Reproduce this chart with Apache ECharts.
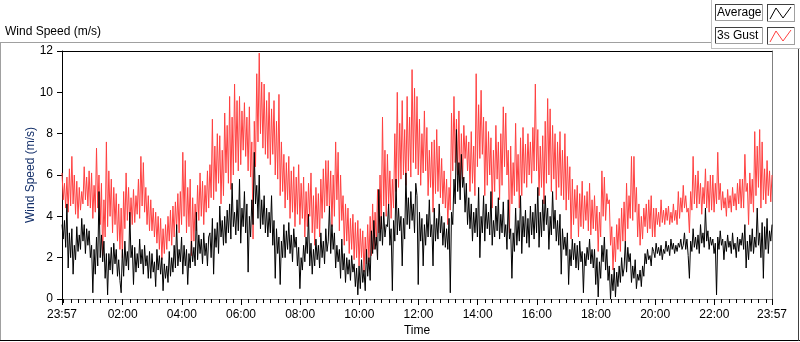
<!DOCTYPE html>
<html>
<head>
<meta charset="utf-8">
<script src="https://cdn.jsdelivr.net/npm/echarts@6/dist/echarts.min.js"></script>
<style>
  html, body { margin: 0; padding: 0; background: #fff; }
  #chart { width: 800px; height: 342px; }
</style>
</head>
<body>
<div id="chart"></div>
<script>
// samples every 2.5 minutes, starting 23:57
const startClock = '23:57';
const stepMin = 2.5;

// 3s gust (m/s), 24 samples per hour
const gustSpeed = [
  6.1, 4.8, 5.6, 4.4, 5.9, 4.2, 6.3, 4.5, 6.9, 4.6, 6.0, 4.1, 5.7, 3.9, 5.4, 4.3, 5.2, 4.6, 6.4, 4.8, 5.9, 4.5, 6.2, 4.4,
  6.1, 3.9, 5.5, 4.2, 7.3, 4.4, 6.0, 3.6, 5.6, 2.1, 4.8, 3.0, 7.6, 3.5, 6.2, 4.0, 5.8, 3.2, 5.4, 3.6, 5.1, 2.8, 4.6, 2.4,
  4.4, 2.0, 5.2, 3.4, 6.1, 3.8, 5.4, 3.5, 4.9, 3.6, 5.3, 3.7, 5.0, 4.1, 5.8, 3.9, 6.9, 4.5, 6.6, 4.2, 5.4, 3.6, 5.0, 3.3,
  4.8, 3.3, 4.4, 3.0, 4.2, 2.7, 4.0, 2.4, 3.9, 1.9, 3.4, 2.2, 3.6, 2.4, 4.0, 2.8, 4.3, 2.6, 4.5, 3.0, 4.7, 3.4, 5.1, 3.2,
  5.2, 3.6, 7.1, 4.0, 6.7, 3.2, 5.4, 3.5, 5.8, 2.1, 4.9, 2.8, 4.6, 3.3, 5.5, 3.8, 6.1, 4.0, 5.7, 3.6, 5.5, 4.2, 6.2, 4.4,
  6.5, 4.9, 8.7, 4.8, 7.4, 5.2, 8.0, 5.6, 7.9, 4.6, 7.2, 5.0, 9.0, 6.1, 8.4, 5.6, 9.8, 5.3, 8.8, 6.0, 10.4, 6.6, 9.6, 6.2,
  9.8, 6.5, 9.1, 7.2, 9.5, 6.9, 8.8, 6.2, 9.3, 5.9, 7.6, 2.9, 8.6, 6.4, 10.9, 7.6, 11.9, 8.0, 10.5, 7.3, 10.4, 7.0, 9.6, 6.8,
  10.0, 6.5, 9.2, 7.0, 9.6, 6.0, 8.6, 5.8, 9.9, 5.0, 7.6, 5.2, 7.0, 4.4, 6.6, 4.8, 6.9, 3.9, 6.2, 4.2, 6.4, 3.5, 5.9, 4.1,
  6.5, 3.6, 5.6, 3.9, 5.9, 3.0, 5.2, 3.5, 5.6, 4.0, 6.1, 3.2, 5.0, 2.6, 5.4, 3.4, 5.1, 3.0, 5.8, 3.9, 6.3, 4.2, 6.7, 4.5,
  6.7, 4.2, 6.2, 3.5, 6.0, 4.0, 7.6, 4.8, 7.1, 3.3, 6.0, 3.8, 5.0, 2.6, 4.6, 2.8, 4.4, 2.2, 3.9, 2.4, 4.1, 1.9, 3.7, 2.0,
  3.8, 1.6, 3.4, 2.0, 3.3, 1.3, 3.0, 1.7, 3.6, 1.8, 4.0, 2.1, 4.6, 2.4, 4.2, 2.6, 5.3, 3.2, 6.0, 3.4, 8.8, 4.5, 7.2, 4.0,
  7.0, 4.6, 6.2, 3.9, 5.8, 4.4, 8.0, 5.2, 10.0, 5.4, 8.5, 5.8, 9.6, 6.0, 8.2, 5.5, 9.8, 6.2, 8.8, 5.9, 11.1, 6.6, 10.2, 6.3,
  9.8, 6.0, 8.7, 5.5, 8.0, 6.1, 9.1, 6.2, 8.3, 5.0, 7.2, 5.4, 7.6, 4.2, 7.7, 5.1, 8.2, 5.2, 7.4, 4.9, 6.8, 4.6, 6.2, 4.4,
  5.8, 3.6, 5.4, 4.3, 9.0, 6.2, 9.8, 6.6, 8.7, 6.0, 9.1, 5.4, 8.0, 5.8, 8.4, 6.8, 7.9, 6.2, 7.6, 5.2, 8.1, 5.6, 7.4, 5.0,
  10.9, 6.4, 9.4, 6.8, 10.1, 7.0, 8.8, 5.0, 8.6, 5.5, 8.1, 6.0, 7.8, 4.4, 7.2, 5.2, 8.4, 5.8, 7.6, 4.8, 8.0, 5.5, 9.3, 6.4,
  9.0, 6.0, 7.2, 3.2, 7.4, 4.6, 6.6, 5.0, 8.5, 5.2, 7.0, 4.4, 7.8, 5.0, 8.3, 5.6, 7.5, 5.4, 8.0, 6.0, 7.6, 5.6, 8.3, 6.2,
  10.4, 6.2, 8.2, 5.0, 7.4, 5.4, 7.9, 4.6, 8.6, 5.6, 9.7, 6.0, 9.2, 5.2, 8.4, 5.8, 8.0, 4.8, 7.6, 5.4, 8.1, 5.0, 7.2, 4.8,
  8.0, 4.3, 6.9, 4.8, 6.4, 2.9, 5.8, 3.6, 5.3, 3.9, 5.5, 3.0, 5.1, 3.5, 5.7, 3.4, 5.0, 3.8, 5.2, 3.3, 5.6, 3.1, 4.8, 3.4,
  5.0, 3.3, 4.5, 2.3, 4.2, 3.0, 6.2, 4.0, 5.9, 3.8, 5.1, 4.6, 4.8, 2.6, 3.5, 1.4, 3.0, 1.8, 3.6, 2.4, 3.9, 2.3, 4.4, 2.8,
  4.7, 2.8, 5.6, 3.4, 5.0, 3.9, 6.9, 3.8, 6.9, 4.2, 5.4, 3.0, 4.6, 2.6, 4.0, 2.9, 4.4, 3.5, 4.6, 3.2, 4.8, 3.4, 5.0, 3.0,
  4.4, 3.0, 4.4, 3.6, 4.2, 3.5, 4.8, 3.7, 4.3, 3.6, 4.4, 3.8, 4.5, 3.6, 4.2, 3.7, 4.6, 3.8, 4.3, 3.6, 5.2, 3.9, 4.9, 4.2,
  5.5, 4.4, 5.0, 4.2, 4.4, 3.2, 5.2, 4.3, 6.9, 4.6, 6.0, 4.4, 6.2, 4.6, 5.6, 4.1, 5.4, 4.6, 6.3, 4.4, 5.7, 4.2, 6.0, 4.3,
  6.0, 4.2, 5.6, 4.6, 7.1, 4.8, 5.6, 4.3, 5.2, 4.4, 4.9, 4.0, 5.3, 4.4, 5.0, 4.2, 5.4, 4.5, 5.1, 4.3, 5.6, 4.6, 5.8, 4.4,
  5.8, 4.4, 7.0, 5.2, 5.6, 3.6, 6.1, 4.6, 5.8, 4.2, 8.1, 5.0, 7.4, 5.4, 8.2, 4.4, 7.6, 4.8, 6.3, 4.6, 6.7, 5.0, 6.2, 4.7,
  6.0
];

// average wind speed (m/s), 24 samples per hour
const avgSpeed = [
  3.6, 2.9, 3.8, 2.5, 4.6, 1.5, 3.2, 2.0, 3.4, 1.2, 2.6, 1.9, 3.5, 2.3, 3.1, 2.4, 3.9, 2.8, 3.6, 2.2, 3.4, 2.6, 3.3, 2.0,
  2.6, 0.3, 2.4, 1.2, 3.0, 1.6, 5.2, 2.0, 3.1, 1.8, 2.8, 1.0, 2.2, 0.2, 2.2, 1.4, 2.5, 1.2, 2.7, 1.7, 2.4, 1.1, 1.9, 0.9,
  0.3, 2.4, 1.1, 2.8, 1.6, 2.3, 1.4, 4.2, 2.0, 2.6, 0.7, 2.5, 1.3, 2.2, 1.5, 2.9, 1.7, 2.4, 1.2, 2.6, 1.6, 2.1, 1.0, 2.3,
  1.0, 2.2, 1.3, 1.8, 0.6, 2.4, 1.4, 2.1, 1.2, 2.0, 0.4, 1.7, 1.0, 1.6, 0.8, 2.3, 1.1, 2.0, 1.3, 2.6, 1.5, 3.6, 1.6, 2.4,
  1.8, 3.0, 1.2, 2.6, 1.6, 2.4, 0.7, 2.2, 1.5, 2.8, 1.8, 2.5, 1.6, 4.2, 1.9, 3.1, 2.2, 2.9, 1.7, 3.2, 2.1, 2.7, 1.6, 3.0,
  3.2, 2.0, 3.9, 1.2, 3.4, 2.5, 3.7, 2.2, 4.5, 3.0, 3.8, 2.6, 4.0, 2.7, 4.3, 3.2, 4.6, 2.9, 5.6, 3.5, 4.2, 3.1, 4.8, 3.3,
  5.8, 2.7, 4.4, 3.5, 5.2, 3.2, 4.6, 1.3, 4.0, 3.0, 4.8, 3.6, 7.1, 4.6, 5.5, 3.9, 6.0, 3.4, 4.8, 3.6, 5.0, 3.2, 4.4, 3.0,
  4.2, 3.2, 5.0, 2.6, 3.8, 1.0, 3.4, 2.2, 3.0, 0.7, 2.8, 2.0, 3.6, 2.0, 3.3, 2.4, 3.7, 2.2, 3.1, 1.8, 3.4, 2.5, 3.0, 1.6,
  2.5, 0.5, 2.0, 1.4, 2.6, 1.8, 3.0, 2.2, 4.1, 1.6, 2.7, 1.2, 2.4, 1.6, 2.9, 1.9, 2.6, 1.5, 3.2, 2.0, 2.8, 1.7, 3.4, 2.3,
  2.8, 4.5, 2.2, 3.6, 2.4, 3.2, 1.5, 2.6, 1.8, 2.4, 1.0, 2.9, 1.4, 2.2, 0.8, 2.0, 1.2, 1.9, 0.9, 2.1, 1.3, 1.7, 0.6, 1.5,
  0.2, 1.6, 0.5, 1.9, 0.8, 1.4, 0.4, 2.4, 1.1, 2.0, 0.9, 3.3, 2.2, 3.8, 2.4, 3.0, 1.9, 5.3, 2.8, 4.0, 2.6, 4.2, 3.0, 3.6,
  3.5, 4.6, 2.6, 3.4, 0.4, 3.8, 2.8, 5.8, 3.1, 4.4, 3.3, 4.0, 1.6, 3.9, 2.9, 6.1, 3.6, 4.9, 3.4, 5.2, 3.8, 4.6, 3.2, 5.6,
  5.0, 0.7, 4.2, 2.8, 3.9, 1.6, 3.6, 2.6, 4.1, 3.0, 4.8, 3.0, 3.6, 1.6, 4.4, 2.8, 3.9, 2.9, 4.6, 3.2, 4.0, 2.6, 3.7, 2.5,
  3.4, 2.4, 3.9, 0.3, 4.2, 3.6, 5.8, 4.6, 8.2, 5.2, 6.6, 4.8, 7.0, 5.4, 5.9, 4.2, 5.6, 3.6, 4.9, 3.4, 4.6, 2.8, 4.2, 3.2,
  4.4, 3.0, 5.4, 2.0, 4.0, 3.2, 5.0, 2.8, 4.6, 3.4, 4.2, 3.1, 5.2, 2.6, 3.8, 3.0, 4.5, 3.3, 4.9, 2.9, 4.1, 3.2, 4.7, 3.0,
  3.6, 2.4, 4.8, 2.9, 3.4, 1.0, 3.2, 2.3, 4.4, 2.6, 3.8, 2.8, 5.0, 2.2, 4.0, 3.0, 4.3, 2.7, 3.9, 2.5, 4.5, 3.1, 4.2, 2.9,
  4.6, 3.2, 5.4, 2.5, 4.2, 3.0, 4.8, 3.3, 5.0, 3.6, 4.4, 2.4, 4.0, 3.1, 5.2, 3.4, 4.3, 2.8, 3.8, 2.6, 4.1, 1.2, 3.4, 2.4,
  3.0, 2.1, 3.2, 0.7, 2.4, 1.6, 2.9, 1.9, 2.7, 1.5, 2.6, 1.4, 2.8, 1.8, 2.3, 0.3, 2.2, 1.6, 2.5, 1.9, 2.9, 1.7, 2.4, 1.5,
  2.4, 0.7, 2.0, 0.1, 1.8, 1.0, 2.6, 1.8, 3.0, 1.4, 2.4, 0.9, 1.6, 0.0, 1.2, 0.4, 1.5, 0.1, 1.3, 0.6, 1.6, 0.8, 2.0, 1.1,
  1.5, 2.8, 1.3, 2.5, 1.8, 2.2, 0.8, 1.6, 1.0, 1.9, 0.5, 1.2, 0.9, 1.4, 0.6, 1.6, 1.1, 2.2, 1.7, 2.4, 1.9, 2.1, 1.6, 2.5,
  2.3, 2.0, 2.7, 2.2, 2.5, 2.1, 2.6, 1.9, 2.4, 2.2, 2.8, 2.3, 2.6, 2.1, 2.9, 2.4, 2.7, 2.2, 2.6, 2.3, 2.7, 2.5, 2.9, 2.4,
  2.6, 3.2, 2.4, 2.9, 2.1, 1.0, 2.8, 2.3, 3.4, 2.5, 3.0, 2.4, 3.1, 2.2, 3.6, 2.7, 3.2, 2.5, 4.4, 2.8, 3.3, 2.4, 3.0, 2.6,
  2.9, 2.2, 2.7, 0.2, 3.0, 2.4, 3.3, 2.6, 2.9, 1.9, 2.8, 2.3, 3.1, 2.5, 2.8, 2.2, 3.2, 2.4, 2.7, 2.0, 3.0, 2.3, 2.9, 2.6,
  3.2, 2.4, 3.6, 1.5, 2.8, 1.9, 3.1, 2.3, 3.4, 2.2, 3.0, 2.5, 4.4, 2.6, 3.2, 2.0, 3.7, 1.0, 3.5, 2.4, 3.9, 2.2, 3.3, 2.8,
  3.6
];

// x axis labels (clock time) and the 15 min minor ticks
const timeLabels = ['23:57', '02:00', '04:00', '06:00', '08:00', '10:00', '12:00',
  '14:00', '16:00', '18:00', '20:00', '22:00', '23:57'];
const minorTickStep = 15;
const yTicks = [0, 2, 4, 6, 8, 10, 12];

const FONT = '"Liberation Sans", Arial, sans-serif';

function clockToMin(s) {
  const p = s.split(':');
  return +p[0] * 60 + +p[1];
}
const start = clockToMin(startClock);
const span = 1440;

// minutes since start for a clock label (last one = full day)
const labelPos = timeLabels.map((s, i) => {
  if (i === timeLabels.length - 1) return span;
  return (clockToMin(s) - start + 1440) % 1440;
});
const minorPos = [0];
for (let m = (1440 - start) % minorTickStep; m <= span; m += minorTickStep) {
  minorPos.push(m);
}
minorPos.push(span);

function fmtTime(v) {
  if (v >= span) return timeLabels[timeLabels.length - 1];
  const t = (start + Math.round(v)) % 1440;
  const h = Math.floor(t / 60), m = t % 60;
  return (h < 10 ? '0' : '') + h + ':' + (m < 10 ? '0' : '') + m;
}

const gustData = gustSpeed.map((v, i) => [i * stepMin, v]);
const avgData = avgSpeed.map((v, i) => [i * stepMin, v]);

const chart = echarts.init(document.getElementById('chart'));

// frame + legend boxes (LabVIEW style)
function ln(x1, y1, x2, y2, c) {
  return { type: 'line', silent: true, shape: { x1, y1, x2, y2 }, style: { stroke: c, lineWidth: 1 } };
}
function box(x, y, w, h) {
  return [
    { type: 'rect', shape: { x: x, y: y, width: w, height: h }, style: { fill: '#fff' } },
    ln(x, y + 0.5, x + w, y + 0.5, '#404040'),
    ln(x + 0.5, y, x + 0.5, y + h, '#404040'),
    ln(x, y + h - 0.5, x + w, y + h - 0.5, '#a0a0a0'),
    ln(x + w - 0.5, y, x + w - 0.5, y + h, '#a0a0a0')
  ];
}
function legendItem(y, label, color) {
  return [].concat(
    box(715, y, 48, 17),
    box(767, y, 28, 18),
    [
      { type: 'text', left: 717, top: y + 3, style: { text: label, font: '12px ' + FONT, fill: '#000' } },
      { type: 'polyline', silent: true, shape: { points: [[770, y + 15], [776, y + 4], [783, y + 14], [791, y + 3]] },
        style: { stroke: color, lineWidth: 1, fill: null } }
    ]
  );
}

const graphics = [].concat(
  [
    { type: 'text', left: 5, top: 26, style: { text: 'Wind Speed (m/s)', font: '12px ' + FONT, fill: '#000' } },
    ln(0, 42.5, 712, 42.5, '#a0a0a0'),
    ln(0.5, 42, 0.5, 341, '#a0a0a0'),
    ln(0, 340.5, 800, 340.5, '#000'),
    ln(798.5, 49, 798.5, 341, '#404040'),
    ln(711.5, 0, 711.5, 49, '#c0c0c0'),
    ln(711, 48.5, 800, 48.5, '#c0c0c0')
  ],
  legendItem(4, 'Average', '#000'),
  legendItem(27, '3s Gust', '#ff4040')
);

chart.setOption({
  animation: false,
  grid: { left: 62, top: 51, width: 710, height: 252, containLabel: false },
  xAxis: [
    {
      type: 'value', min: 0, max: span, position: 'bottom', offset: 0,
      name: 'Time', nameLocation: 'middle', nameGap: 26, nameMoveOverlap: false,
      nameTextStyle: { color: '#000', fontSize: 12, fontFamily: FONT },
      axisLine: { show: true, onZero: false, lineStyle: { color: '#808080', width: 1 } },
      axisTick: { show: true, customValues: labelPos, length: 6, lineStyle: { color: '#000' } },
      axisLabel: { customValues: labelPos, formatter: fmtTime, margin: 10, color: '#000', fontSize: 12, fontFamily: FONT },
      splitLine: { show: false }
    },
    {
      type: 'value', min: 0, max: span, position: 'bottom', offset: 0,
      axisLine: { show: false, onZero: false },
      axisTick: { show: true, customValues: minorPos, length: 4, lineStyle: { color: '#000' } },
      axisLabel: { show: false },
      splitLine: { show: false }
    },
    {
      type: 'value', min: 0, max: span, position: 'top', offset: 0,
      axisLine: { show: true, onZero: false, lineStyle: { color: '#000', width: 1 } },
      axisTick: { show: false },
      axisLabel: { show: false },
      splitLine: { show: false }
    }
  ],
  yAxis: [
    {
      type: 'value', min: yTicks[0], max: yTicks[yTicks.length - 1], interval: 2, position: 'left',
      name: 'Wind Speed (m/s)', nameLocation: 'middle', nameGap: 25, nameRotate: 90, nameMoveOverlap: false,
      nameTextStyle: { color: '#14306a', fontSize: 12, fontFamily: FONT },
      axisLine: { show: true, onZero: false, lineStyle: { color: '#000', width: 1 } },
      axisTick: { show: true, length: 5, lineStyle: { color: '#000' } },
      axisLabel: { margin: 9, color: '#000', fontSize: 12, fontFamily: FONT },
      splitLine: { show: false }
    },
    {
      type: 'value', min: 0, max: 12, position: 'right',
      axisLine: { show: true, onZero: false, lineStyle: { color: '#808080', width: 1 } },
      axisTick: { show: false },
      axisLabel: { show: false },
      splitLine: { show: false }
    }
  ],
  series: [
    {
      name: '3s Gust', type: 'line', xAxisIndex: 0, yAxisIndex: 0,
      data: gustData, symbol: 'none', showSymbol: false,
      lineStyle: { color: '#ff4040', width: 1 }, itemStyle: { color: '#ff4040' }
    },
    {
      name: 'Average', type: 'line', xAxisIndex: 0, yAxisIndex: 0,
      data: avgData, symbol: 'none', showSymbol: false,
      lineStyle: { color: '#000', width: 1 }, itemStyle: { color: '#000' }
    }
  ],
  graphic: graphics
});
</script>
</body>
</html>
